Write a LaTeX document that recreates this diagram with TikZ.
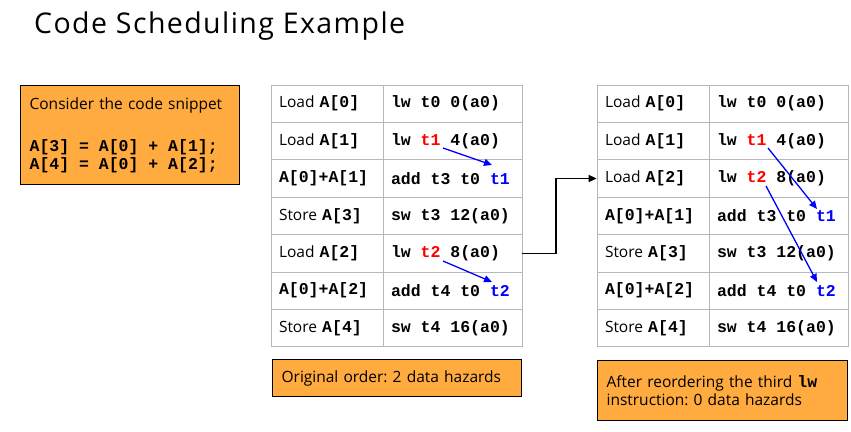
\documentclass[tikz,border=0pt]{standalone}
\usepackage{fontspec}
\setmainfont{Open Sans}
\setmonofont{Liberation Mono}
\usepackage{xcolor}
\usetikzlibrary{arrows.meta}
\definecolor{boxfill}{HTML}{FFAB40}
\definecolor{gridline}{HTML}{B7B7B7}
\definecolor{hazred}{rgb}{1,0,0}
\definecolor{hazblue}{rgb}{0,0,1}
\newcommand{\ins}[1]{{\ttfamily\bfseries\fontsize{16.5}{18}\selectfont\spaceskip=0.6em\xspaceskip=0.6em\relax #1}}
\frenchspacing

\begin{document}
\begin{tikzpicture}[x=1pt,y=-1pt,
	lcell/.style={draw=gridline,line width=0.8pt,minimum height=37.4pt,text width=96pt,inner xsep=8pt,align=left,font=\fontsize{15.5}{18}\selectfont},
	rcell/.style={lcell,text width=123pt},
	note/.style={draw=black,line width=1.2pt,fill=boxfill,anchor=north west,align=left,inner xsep=9pt,font=\fontsize{15.5}{18}\selectfont},
	dep/.style={hazblue,line width=1.3pt,-{Triangle[length=8pt,width=7pt]}},
	conn/.style={black,line width=1.6pt,-{Triangle[length=8pt,width=7pt]}}]
					\useasboundingbox (0,0) rectangle (851,431);
					
					\node (title) at (34,33.3) [anchor=base west,inner sep=0pt,font=\fontsize{28.5}{32}\selectfont\addfontfeature{LetterSpace=5}] {Code Scheduling Example};
					
					\node (snippet) at (20,85) [note,text width=201pt,minimum height=99pt] {Consider the code snippet\\[24pt] \ins{A[3] = A[0] + A[1];}\\ \ins{A[4] = A[0] + A[2];}};
					
					% original order
					\node (a1) at (327,103.7) [lcell] {Load \ins{A[0]}};
					\node (a2) at (327,141.1) [lcell] {Load \ins{A[1]}};
					\node (a3) at (327,178.5) [lcell] {\ins{A[0]+A[1]}};
					\node (a4) at (327,215.9) [lcell] {Store \ins{A[3]}};
					\node (a5) at (327,253.3) [lcell] {Load \ins{A[2]}};
					\node (a6) at (327,290.7) [lcell] {\ins{A[0]+A[2]}};
					\node (a7) at (327,328.1) [lcell] {Store \ins{A[4]}};
					
					\node (b1) at (452.5,103.7) [rcell] {\ins{lw t0 0(a0)}};
					\node (b2) at (452.5,141.1) [rcell] {\ins{lw \textcolor{hazred}{t1} 4(a0)}};
					\node (b3) at (452.5,178.5) [rcell] {\ins{add t3 t0 \textcolor{hazblue}{t1}}};
					\node (b4) at (452.5,215.9) [rcell] {\ins{sw t3 12(a0)}};
					\node (b5) at (452.5,253.3) [rcell] {\ins{lw \textcolor{hazred}{t2} 8(a0)}};
					\node (b6) at (452.5,290.7) [rcell] {\ins{add t4 t0 \textcolor{hazblue}{t2}}};
					\node (b7) at (452.5,328.1) [rcell] {\ins{sw t4 16(a0)}};
					
					% reordered
					\node (c1) at (653,103.7) [lcell] {Load \ins{A[0]}};
					\node (c2) at (653,141.1) [lcell] {Load \ins{A[1]}};
					\node (c3) at (653,178.5) [lcell] {Load \ins{A[2]}};
					\node (c4) at (653,215.9) [lcell] {\ins{A[0]+A[1]}};
					\node (c5) at (653,253.3) [lcell] {Store \ins{A[3]}};
					\node (c6) at (653,290.7) [lcell] {\ins{A[0]+A[2]}};
					\node (c7) at (653,328.1) [lcell] {Store \ins{A[4]}};
					
					\node (d1) at (778.5,103.7) [rcell] {\ins{lw t0 0(a0)}};
					\node (d2) at (778.5,141.1) [rcell] {\ins{lw \textcolor{hazred}{t1} 4(a0)}};
					\node (d3) at (778.5,178.5) [rcell] {\ins{lw \textcolor{hazred}{t2} 8(a0)}};
					\node (d4) at (778.5,215.9) [rcell] {\ins{add t3 t0 \textcolor{hazblue}{t1}}};
					\node (d5) at (778.5,253.3) [rcell] {\ins{sw t3 12(a0)}};
					\node (d6) at (778.5,290.7) [rcell] {\ins{add t4 t0 \textcolor{hazblue}{t2}}};
					\node (d7) at (778.5,328.1) [rcell] {\ins{sw t4 16(a0)}};
					
					\node (orig) at (272,359) [note,text width=231pt,minimum height=37pt] {Original order: 2 data hazards};
					\node (reord) at (597,360) [note,text width=232pt,minimum height=60pt] {After reordering the third \ins{lw}\\ instruction: 0 data hazards};
					
					\coordinate (h1s) at (443,148);
					\coordinate (h1e) at (492,165);
					\coordinate (h2s) at (443,261);
					\coordinate (h2e) at (492,282);
					\coordinate (h3s) at (768,148);
					\coordinate (h3e) at (817,209);
					\coordinate (h4s) at (766,186);
					\coordinate (h4e) at (817,282);
					\coordinate (bend) at (556,0);
					
					\draw[dep] (h1s) to[] (h1e);
					\draw[dep] (h2s) to[] (h2e);
					\draw[dep] (h3s) to[] (h3e);
					\draw[dep] (h4s) to[] (h4e);
					
					\draw[conn] (b5.east) -| (bend |- c3.west) -- (c3.west);
				\end{tikzpicture}
\end{document}
